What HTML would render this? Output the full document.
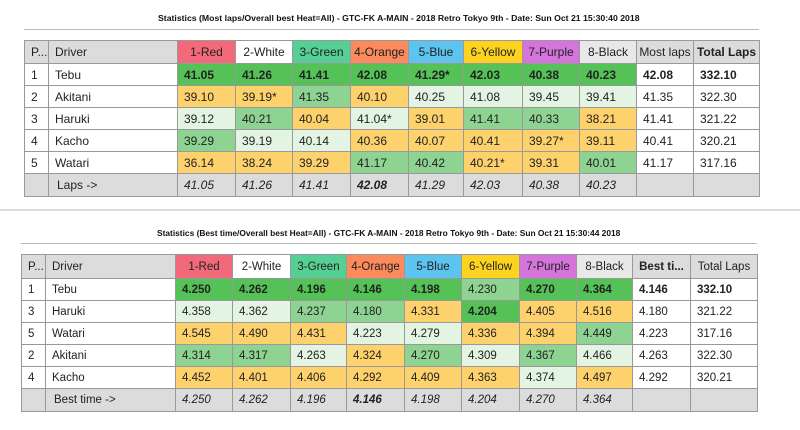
<!DOCTYPE html>
<html><head><meta charset="utf-8"><style>
body{margin:0;width:800px;height:430px;background:#fff;font-family:"Liberation Sans",sans-serif;position:relative;overflow:hidden}
.t{position:absolute;font-size:8.7px;font-weight:bold;color:#111;white-space:nowrap}
.hl{position:absolute;height:1px;background:#bbb}
table{position:absolute;border-collapse:collapse;table-layout:fixed;font-size:12px;color:#222}
td{border:1px solid #999;padding:0 0 0 6px;white-space:nowrap;overflow:hidden}
.hd td{text-align:center;padding:0}
.hd td.lft{text-align:left;padding-left:6px}
.h{background:#dcdcdc}
.S{background:#55c257;font-weight:bold}.M{background:#8ed391}.L{background:#e3f4e3}.Y{background:#fdd26c}
.f td{background:#dcdcdc;font-style:italic}
.b{font-weight:bold}
</style></head><body>
<div class="t" style="left:158px;top:13px">Statistics (Most laps/Overall best Heat=All) - GTC-FK A-MAIN - 2018 Retro Tokyo 9th - Date: Sun Oct 21 15:30:40 2018</div>
<div class="hl" style="left:24px;width:735px;top:29px"></div>
<table style="left:24px;top:40px;width:735px">
<colgroup><col style="width:24px"><col style="width:129px"><col style="width:58px"><col style="width:57px"><col style="width:58px"><col style="width:58px"><col style="width:55px"><col style="width:59px"><col style="width:57px"><col style="width:57px"><col style="width:57px"><col style="width:66px"></colgroup>
<tr style="height:23px" class="hd"><td class="h lft">P...</td><td class="h lft">Driver</td><td style="background:#f26a7a">1-Red</td><td>2-White</td><td style="background:#55cf93">3-Green</td><td style="background:#fb8a5c">4-Orange</td><td style="background:#5cc4ef">5-Blue</td><td style="background:#fdd31f">6-Yellow</td><td style="background:#d575db">7-Purple</td><td style="background:#e8e8e8">8-Black</td><td class="h">Most laps</td><td class="h b">Total Laps</td></tr>
<tr style="height:22px"><td>1</td><td>Tebu</td><td class="S">41.05</td><td class="S">41.26</td><td class="S">41.41</td><td class="S">42.08</td><td class="S">41.29*</td><td class="S">42.03</td><td class="S">40.38</td><td class="S">40.23</td><td class="b">42.08</td><td class="b">332.10</td></tr>
<tr style="height:22px"><td>2</td><td>Akitani</td><td class="Y">39.10</td><td class="Y">39.19*</td><td class="M">41.35</td><td class="Y">40.10</td><td class="L">40.25</td><td class="L">41.08</td><td class="L">39.45</td><td class="L">39.41</td><td>41.35</td><td>322.30</td></tr>
<tr style="height:22px"><td>3</td><td>Haruki</td><td class="L">39.12</td><td class="M">40.21</td><td class="Y">40.04</td><td class="L">41.04*</td><td class="Y">39.01</td><td class="M">41.41</td><td class="M">40.33</td><td class="Y">38.21</td><td>41.41</td><td>321.22</td></tr>
<tr style="height:22px"><td>4</td><td>Kacho</td><td class="M">39.29</td><td class="L">39.19</td><td class="L">40.14</td><td class="Y">40.36</td><td class="Y">40.07</td><td class="Y">40.41</td><td class="Y">39.27*</td><td class="Y">39.11</td><td>40.41</td><td>320.21</td></tr>
<tr style="height:22px"><td>5</td><td>Watari</td><td class="Y">36.14</td><td class="Y">38.24</td><td class="Y">39.29</td><td class="M">41.17</td><td class="M">40.42</td><td class="Y">40.21*</td><td class="Y">39.31</td><td class="M">40.01</td><td>41.17</td><td>317.16</td></tr>
<tr style="height:23px" class="f"><td></td><td style="padding-left:8px;font-style:normal">Laps -&gt;</td><td>41.05</td><td>41.26</td><td>41.41</td><td class="b">42.08</td><td>41.29</td><td>42.03</td><td>40.38</td><td>40.23</td><td></td><td></td></tr>
</table>
<div class="hl" style="left:0;width:800px;top:209px;background:#ddd;height:2px"></div>
<div class="t" style="left:157px;top:228px;font-size:8.4px">Statistics (Best time/Overall best Heat=All) - GTC-FK A-MAIN - 2018 Retro Tokyo 9th - Date: Sun Oct 21 15:30:44 2018</div>
<div class="hl" style="left:21px;width:736px;top:243px"></div>
<table style="left:21px;top:254px;width:736px;font-size:11.5px">
<colgroup><col style="width:24px"><col style="width:130px"><col style="width:57px"><col style="width:58px"><col style="width:56px"><col style="width:58px"><col style="width:57px"><col style="width:58px"><col style="width:57px"><col style="width:56px"><col style="width:58px"><col style="width:67px"></colgroup>
<tr style="height:24px" class="hd"><td class="h lft">P...</td><td class="h lft">Driver</td><td style="background:#f26a7a">1-Red</td><td>2-White</td><td style="background:#55cf93">3-Green</td><td style="background:#fb8a5c">4-Orange</td><td style="background:#5cc4ef">5-Blue</td><td style="background:#fdd31f">6-Yellow</td><td style="background:#d575db">7-Purple</td><td style="background:#e8e8e8">8-Black</td><td class="h b">Best ti...</td><td class="h">Total Laps</td></tr>
<tr style="height:22px"><td>1</td><td>Tebu</td><td class="S">4.250</td><td class="S">4.262</td><td class="S">4.196</td><td class="S">4.146</td><td class="S">4.198</td><td class="M">4.230</td><td class="S">4.270</td><td class="S">4.364</td><td class="b">4.146</td><td class="b">332.10</td></tr>
<tr style="height:22px"><td>3</td><td>Haruki</td><td class="L">4.358</td><td class="L">4.362</td><td class="M">4.237</td><td class="M">4.180</td><td class="Y">4.331</td><td class="S">4.204</td><td class="Y">4.405</td><td class="Y">4.516</td><td>4.180</td><td>321.22</td></tr>
<tr style="height:22px"><td>5</td><td>Watari</td><td class="Y">4.545</td><td class="Y">4.490</td><td class="Y">4.431</td><td class="L">4.223</td><td class="L">4.279</td><td class="Y">4.336</td><td class="Y">4.394</td><td class="M">4.449</td><td>4.223</td><td>317.16</td></tr>
<tr style="height:22px"><td>2</td><td>Akitani</td><td class="M">4.314</td><td class="M">4.317</td><td class="L">4.263</td><td class="Y">4.324</td><td class="M">4.270</td><td class="L">4.309</td><td class="M">4.367</td><td class="L">4.466</td><td>4.263</td><td>322.30</td></tr>
<tr style="height:22px"><td>4</td><td>Kacho</td><td class="Y">4.452</td><td class="Y">4.401</td><td class="Y">4.406</td><td class="Y">4.292</td><td class="Y">4.409</td><td class="Y">4.363</td><td class="L">4.374</td><td class="Y">4.497</td><td>4.292</td><td>320.21</td></tr>
<tr style="height:23px" class="f"><td></td><td style="padding-left:8px;font-style:normal">Best time -&gt;</td><td>4.250</td><td>4.262</td><td>4.196</td><td class="b">4.146</td><td>4.198</td><td>4.204</td><td>4.270</td><td>4.364</td><td></td><td></td></tr>
</table>
</body></html>
